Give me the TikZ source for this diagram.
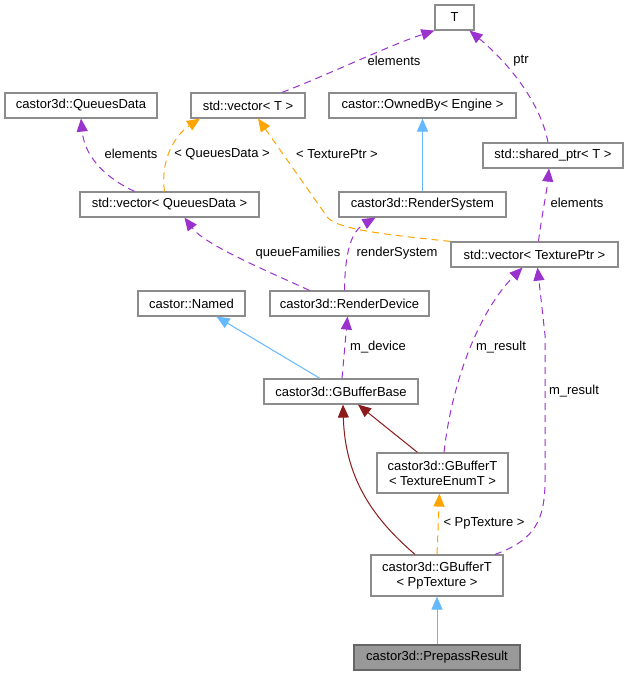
\documentclass[tikz,border=0pt]{standalone}
\usepackage{fontspec}
\setmainfont{Liberation Sans}
\usetikzlibrary{arrows.meta}
\definecolor{purp}{HTML}{9A32CD}
\definecolor{orng}{HTML}{FFA500}
\definecolor{blu}{HTML}{63B8FF}
\definecolor{dred}{HTML}{8B1A1A}
\definecolor{bordc}{HTML}{8C8C8C}
\begin{document}
\begin{tikzpicture}[x=1pt,y=-1pt,
  every node/.style={font=\fontsize{13pt}{15pt}\selectfont},
  box/.style={draw=bordc,line width=1.2pt,fill=white,inner sep=0pt,minimum height=25pt,align=center},
  lab/.style={inner sep=0pt,fill=none},
  tip/.style={-{Triangle[length=13pt,width=11pt]}},
  pdash/.style={tip,draw=purp,line width=1pt,dash pattern=on 7pt off 5pt},
  odash/.style={tip,draw=orng,line width=1pt,dash pattern=on 7pt off 5pt},
  bline/.style={tip,draw=blu,line width=1pt},
  rline/.style={tip,draw=dred,line width=1pt}]
\useasboundingbox[fill=white] (0,0) rectangle (629,676);
% nodes
\node[box,minimum width=39pt] (T) at (454.5,17.5) {T};
\node[box,minimum width=152pt] (QD) at (81,105.5) {castor3d::QueuesData};
\node[box,minimum width=114pt] (vecT) at (248,105.5) {std::vector< T >};
\node[box,minimum width=187pt] (Owned) at (422.5,105.5) {castor::OwnedBy< Engine >};
\node[box,minimum width=140pt] (shptr) at (553,155.5) {std::shared\_ptr< T >};
\node[box,minimum width=179pt] (vecQD) at (169.5,204.5) {std::vector< QueuesData >};
\node[box,minimum width=167pt] (RS) at (422.5,204.5) {castor3d::RenderSystem};
\node[box,minimum width=167pt] (vecTP) at (534.5,254.5) {std::vector< TexturePtr >};
\node[box,minimum width=107pt] (Named) at (191.5,303.5) {castor::Named};
\node[box,minimum width=159pt] (RD) at (349.5,303.5) {castor3d::RenderDevice};
\node[box,minimum width=154pt] (GBB) at (341,391.5) {castor3d::GBufferBase};
\node[box,minimum width=131pt,minimum height=40pt] (GBTE) at (442.5,473) {castor3d::GBufferT\\< TextureEnumT >};
\node[box,minimum width=132pt,minimum height=41pt] (GBTP) at (437,575.5) {castor3d::GBufferT\\< PpTexture >};
\node[box,minimum width=166pt,fill=black!40,draw=black!60] (PR) at (437,657.5) {castor3d::PrepassResult};
% edges
\draw[pdash] ([xshift=34]vecT.north) .. controls (330,74) and (390,45) .. (T.south west);
\draw[pdash] ([xshift=-5]shptr.north) .. controls (540,100) and (505,60) .. ([xshift=15]T.south);
\draw[pdash] ([xshift=-35]vecQD.north) .. controls (110,180) and (85,160) .. (QD.south);
\draw[odash] ([xshift=-5]vecQD.north) .. controls (160,160) and (175,135) .. ([xshift=-48]vecT.south);
\draw[odash] (vecTP.north west) .. controls (390,235) and (340,230) .. (328,218) -- ([xshift=10]vecT.south);
\draw[bline] (RS.north) -- (Owned.south);
\draw[pdash] ([xshift=4]vecTP.north) .. controls (541,220) and (547,190) .. ([xshift=-4]shptr.south);
\draw[pdash] ([xshift=-40]RD.north) .. controls (265,270) and (205,245) .. ([xshift=15]vecQD.south);
\draw[pdash] ([xshift=-5]RD.north) .. controls (345,255) and (350,232) .. ([xshift=-47]RS.south);
\draw[bline] ([xshift=-21]GBB.north) -- ([xshift=25]Named.south);
\draw[pdash] ([xshift=1]GBB.north) -- ([xshift=-2]RD.south);
\draw[rline] ([xshift=-25]GBTE.north) -- ([xshift=17]GBB.south);
\draw[rline] ([xshift=-22]GBTP.north) .. controls (375,520) and (345,480) .. ([xshift=2]GBB.south);
\draw[pdash] ([xshift=1.5]GBTE.north) .. controls (452,380) and (480,310) .. ([xshift=-12]vecTP.south);
\draw[odash] (GBTP.north) -- ([xshift=-3]GBTE.south);
\draw[pdash] ([xshift=58]GBTP.north) .. controls (535,540) and (545,520) .. (545,480) -- (545,335) -- ([xshift=3]vecTP.south);
\draw[bline] (PR.north) -- (GBTP.south);
% labels
\node[lab] (l1) at (394,61) {elements};
\node[lab] (l2) at (521,61) {ptr};
\node[lab] (l3) at (131,154) {elements};
\node[lab] (l4) at (222,154) {< QueuesData >};
\node[lab] (l5) at (337,154) {< TexturePtr >};
\node[lab] (l6) at (577,203) {elements};
\node[lab] (l7) at (298,253) {queueFamilies};
\node[lab] (l8) at (397,253) {renderSystem};
\node[lab] (l9) at (378,347) {m\_device};
\node[lab] (l10) at (501,347) {m\_result};
\node[lab] (l11) at (484,523) {< PpTexture >};
\node[lab] (l12) at (574,391) {m\_result};
\end{tikzpicture}
\end{document}
